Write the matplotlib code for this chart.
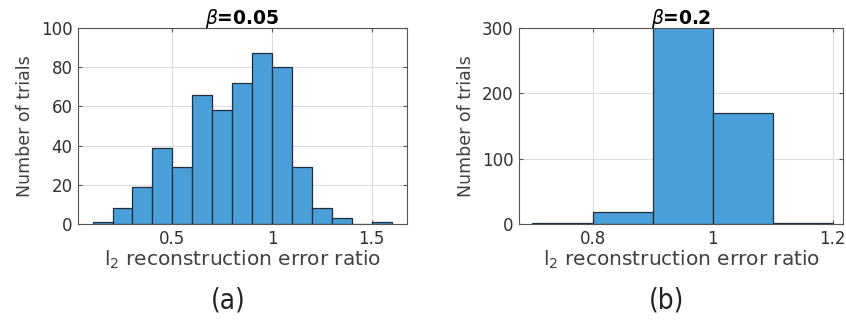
import matplotlib
matplotlib.use("Agg")
import matplotlib.pyplot as plt
import numpy as np

plt.rcParams['font.family'] = ['DejaVu Sans']
plt.rcParams['mathtext.fontset'] = 'dejavusans'

# Panel (a): beta = 0.05
edges_a = [0.1, 0.2, 0.3, 0.4, 0.5, 0.6, 0.7, 0.8, 0.9, 1.0, 1.1, 1.2, 1.3, 1.4, 1.5, 1.6]
counts_a = [1, 8, 19, 39, 29, 66, 58, 72, 87, 80, 29, 8, 3, 0, 1]
xticks_a = [0.5, 1.0, 1.5]
xticklabels_a = ["0.5", "1", "1.5"]
yticks_a = [0, 20, 40, 60, 80, 100]

# Panel (b): beta = 0.2
edges_b = [0.7, 0.8, 0.9, 1.0, 1.1, 1.2]
counts_b = [2, 18, 308, 170, 2]
xticks_b = [0.8, 1.0, 1.2]
xticklabels_b = ["0.8", "1", "1.2"]
yticks_b = [0, 100, 200, 300]

titles = [r"$\beta$=0.05", r"$\beta$=0.2"]
captions = ["(a)", "(b)"]
xlabel = r"l$_2$ reconstruction error ratio"
ylabel = "Number of trials"

bar_color = "#4a9fd8"
edge_color = "#1f2d3d"

fig = plt.figure(figsize=(8.46, 3.25), dpi=100)
ax1 = fig.add_axes([0.0922, 0.3108, 0.3885, 0.603])
ax2 = fig.add_axes([0.6138, 0.3108, 0.3827, 0.603])

def draw(ax, edges, counts, xlim, ylim, xticks, xtl, yticks, title):
    ax.bar(np.array(edges[:-1]), counts, width=np.diff(edges), align='edge',
           color=bar_color, edgecolor=edge_color, linewidth=0.9, zorder=2)
    ax.set_xlim(*xlim)
    ax.set_ylim(*ylim)
    ax.set_xticks(xticks)
    ax.set_xticklabels(xtl)
    ax.set_yticks(yticks)
    ax.grid(True, color="#dddddd", linewidth=0.8, zorder=0)
    ax.set_axisbelow(True)
    for s in ax.spines.values():
        s.set_color("#555555")
        s.set_linewidth(0.8)
    ax.tick_params(direction='in', length=3, color="#555555", labelsize=12,
                   labelcolor="#303030", top=True, right=True, pad=4)
    ax.set_xlabel(xlabel, fontsize=14.5, color="#404040", labelpad=1)
    ax.set_ylabel(ylabel, fontsize=12.5, color="#404040", labelpad=5)
    ax.set_title(title, fontsize=13.5, fontweight='bold', pad=3)

draw(ax1, edges_a, counts_a, (0.027, 1.675), (0, 100), xticks_a, xticklabels_a, yticks_a, titles[0])
draw(ax2, edges_b, counts_b, (0.678, 1.217), (0, 300), xticks_b, xticklabels_b, yticks_b, titles[1])

fig.text(228/846, 1 - 300/325, captions[0], ha='center', va='center', fontsize=20,
         color="#222222", fontstretch='condensed')
fig.text(667/846, 1 - 300/325, captions[1], ha='center', va='center', fontsize=20,
         color="#222222", fontstretch='condensed')

fig.savefig("out.png", dpi=100)
